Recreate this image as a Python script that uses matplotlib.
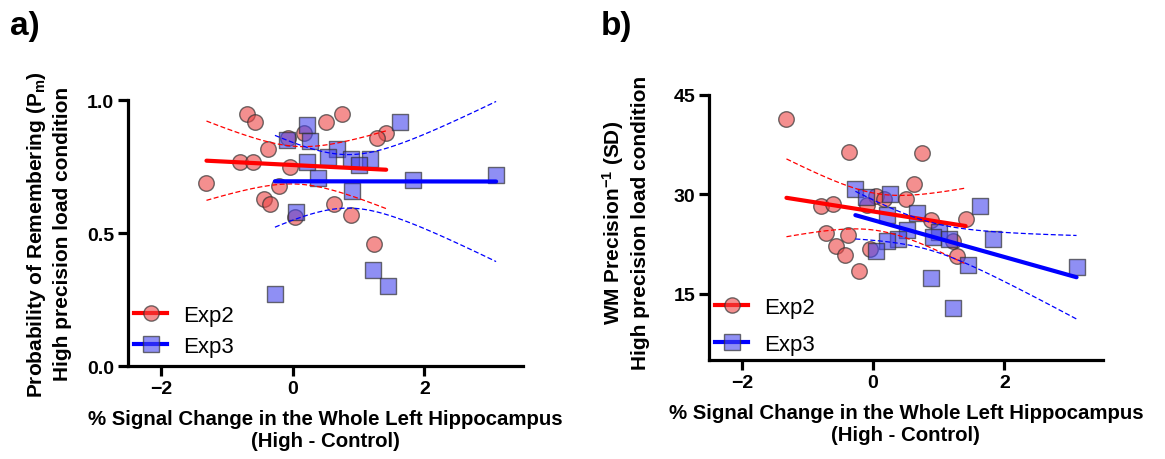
import numpy as np
import matplotlib
matplotlib.use('Agg')
import matplotlib.pyplot as plt

plt.rcParams['font.family'] = ['Liberation Sans', 'DejaVu Sans']
plt.rcParams['mathtext.fontset'] = 'custom'
plt.rcParams['mathtext.rm'] = 'Liberation Sans:bold'
plt.rcParams['mathtext.default'] = 'regular'

# panel a: probability of remembering vs signal change
a_exp2_x = [-0.70, -0.57, 0.75, 0.51, 0.17, -0.07, 1.42, 1.28, -0.38, -0.80,
            -0.60, -0.04, -1.31, -0.21, -0.43, -0.35, 0.62, 0.88, 0.04, 1.23]
a_exp2_y = [0.947, 0.918, 0.948, 0.918, 0.878, 0.858, 0.878, 0.856, 0.818, 0.768,
            0.768, 0.748, 0.688, 0.678, 0.630, 0.608, 0.608, 0.570, 0.560, 0.461]
a_exp3_x = [0.21, 1.63, -0.08, 0.27, 0.67, 0.53, 0.89, 1.17, 1.00, 0.21,
            0.39, 1.82, 3.09, 0.90, 0.05, 1.22, 1.45, -0.27]
a_exp3_y = [0.907, 0.918, 0.850, 0.848, 0.818, 0.786, 0.778, 0.778, 0.758, 0.768,
            0.708, 0.698, 0.717, 0.660, 0.580, 0.361, 0.301, 0.272]

# panel b: WM precision vs signal change
b_exp2_x = [-1.32, -0.36, 0.75, 0.63, 0.04, 0.17, 0.50, -0.09, -0.80, -0.61,
            0.88, 1.41, -0.71, -0.38, 1.22, -0.57, -0.43, -0.05, 1.28, -0.21]
b_exp2_y = [41.3, 36.4, 36.2, 31.5, 29.75, 29.35, 29.25, 28.35, 28.2, 28.45,
            26.1, 26.2, 24.1, 23.8, 23.0, 22.15, 20.9, 21.8, 20.75, 18.4]
b_exp3_x = [-0.27, 0.26, -0.11, 1.63, 0.67, 0.21, 0.52, 1.00, 1.82, 0.92,
            1.16, 0.38, 0.21, 0.04, 1.45, 3.10, 0.89, 1.22]
b_exp3_y = [30.8, 30.1, 29.6, 28.2, 27.2, 26.9, 24.6, 24.3, 23.2, 23.5,
            23.2, 23.2, 22.9, 21.4, 19.4, 19.0, 17.4, 12.9]

T_CRIT = {20: 2.101, 18: 2.120}  # t(0.975, n-2)

RED_FACE = (0.93, 0.27, 0.27, 0.6)
BLUE_FACE = (0.27, 0.27, 0.93, 0.6)
EDGE = (0.2, 0.2, 0.2, 0.7)


def fit_with_ci(ax, x, y, color):
    x = np.asarray(x)
    y = np.asarray(y)
    n = len(x)
    slope, icpt = np.polyfit(x, y, 1)
    xs = np.linspace(x.min(), x.max(), 100)
    yhat = slope * xs + icpt
    resid = y - (slope * x + icpt)
    s = np.sqrt(np.sum(resid ** 2) / (n - 2))
    se = s * np.sqrt(1 / n + (xs - x.mean()) ** 2 / np.sum((x - x.mean()) ** 2))
    half = T_CRIT[n] * se
    ax.plot(xs, yhat, color=color, lw=3, zorder=4, solid_capstyle='round')
    ax.plot(xs, yhat + half, color=color, lw=0.9, ls=(0, (4, 2)), zorder=4)
    ax.plot(xs, yhat - half, color=color, lw=0.9, ls=(0, (4, 2)), zorder=4)


def style_axes(ax):
    for side in ['top', 'right']:
        ax.spines[side].set_visible(False)
    for side in ['left', 'bottom']:
        ax.spines[side].set_linewidth(2.3)
    ax.tick_params(width=2.3, length=7, pad=3, labelsize=14)
    for lab in ax.get_xticklabels() + ax.get_yticklabels():
        lab.set_fontweight('bold')


def draw_panel(ax, e2x, e2y, e3x, e3y, spacing, leg_y):
    ax.scatter(e2x, e2y, s=125, marker='o', facecolor=RED_FACE, edgecolor=EDGE,
               linewidth=1, zorder=3)
    ax.scatter(e3x, e3y, s=125, marker='s', facecolor=BLUE_FACE, edgecolor=EDGE,
               linewidth=1, zorder=3)
    fit_with_ci(ax, e2x, e2y, 'red')
    fit_with_ci(ax, e3x, e3y, 'blue')
    h2, = ax.plot([], [], color='red', lw=3, marker='o', ms=11,
                  mfc=RED_FACE, mec=EDGE)
    h3, = ax.plot([], [], color='blue', lw=3, marker='s', ms=11,
                  mfc=BLUE_FACE, mec=EDGE)
    ax.legend([h2, h3], ['Exp2', 'Exp3'], loc='lower left', frameon=False,
              fontsize=16, handlelength=1.5, handletextpad=0.7,
              labelspacing=spacing, borderpad=0, borderaxespad=0,
              bbox_to_anchor=(0.015, leg_y))
    ax.set_xlim(-2.5, 3.5)
    ax.set_xticks([-2, 0, 2])
    ax.set_xlabel('% Signal Change in the Whole Left Hippocampus\n(High - Control)',
                  fontsize=14.7, fontweight='bold', labelpad=9)


fig = plt.figure(figsize=(11.65, 4.6), dpi=100)

ax1 = fig.add_axes([0.110, 0.202, 0.339, 0.578])
draw_panel(ax1, a_exp2_x, a_exp2_y, a_exp3_x, a_exp3_y, 0.45, 0.035)
ax1.set_ylim(0, 1)
ax1.set_yticks([0.0, 0.5, 1.0])
ax1.set_yticklabels(['0.0', '0.5', '1.0'])
ax1.set_ylabel('Probability of Remembering (P$_m$)\nHigh precision load condition',
               fontsize=15, fontweight='bold', linespacing=1.35)
ax1.yaxis.set_label_coords(-0.142, 0.5)
style_axes(ax1)

ax2 = fig.add_axes([0.6086, 0.215, 0.338, 0.577])
draw_panel(ax2, b_exp2_x, b_exp2_y, b_exp3_x, b_exp3_y, 0.7, 0.02)
ax2.set_ylim(5, 45)
ax2.set_yticks([15, 30, 45])
ax2.set_ylabel('WM Precision$^{-1}$ (SD)\nHigh precision load condition',
               fontsize=15, fontweight='bold', linespacing=1.3)
ax2.yaxis.set_label_coords(-0.150, 0.52)
style_axes(ax2)

fig.text(0.009, 0.975, 'a)', fontsize=24, fontweight='bold', va='top')
fig.text(0.516, 0.975, 'b)', fontsize=24, fontweight='bold', va='top')

fig.savefig('out.png', dpi=100)
